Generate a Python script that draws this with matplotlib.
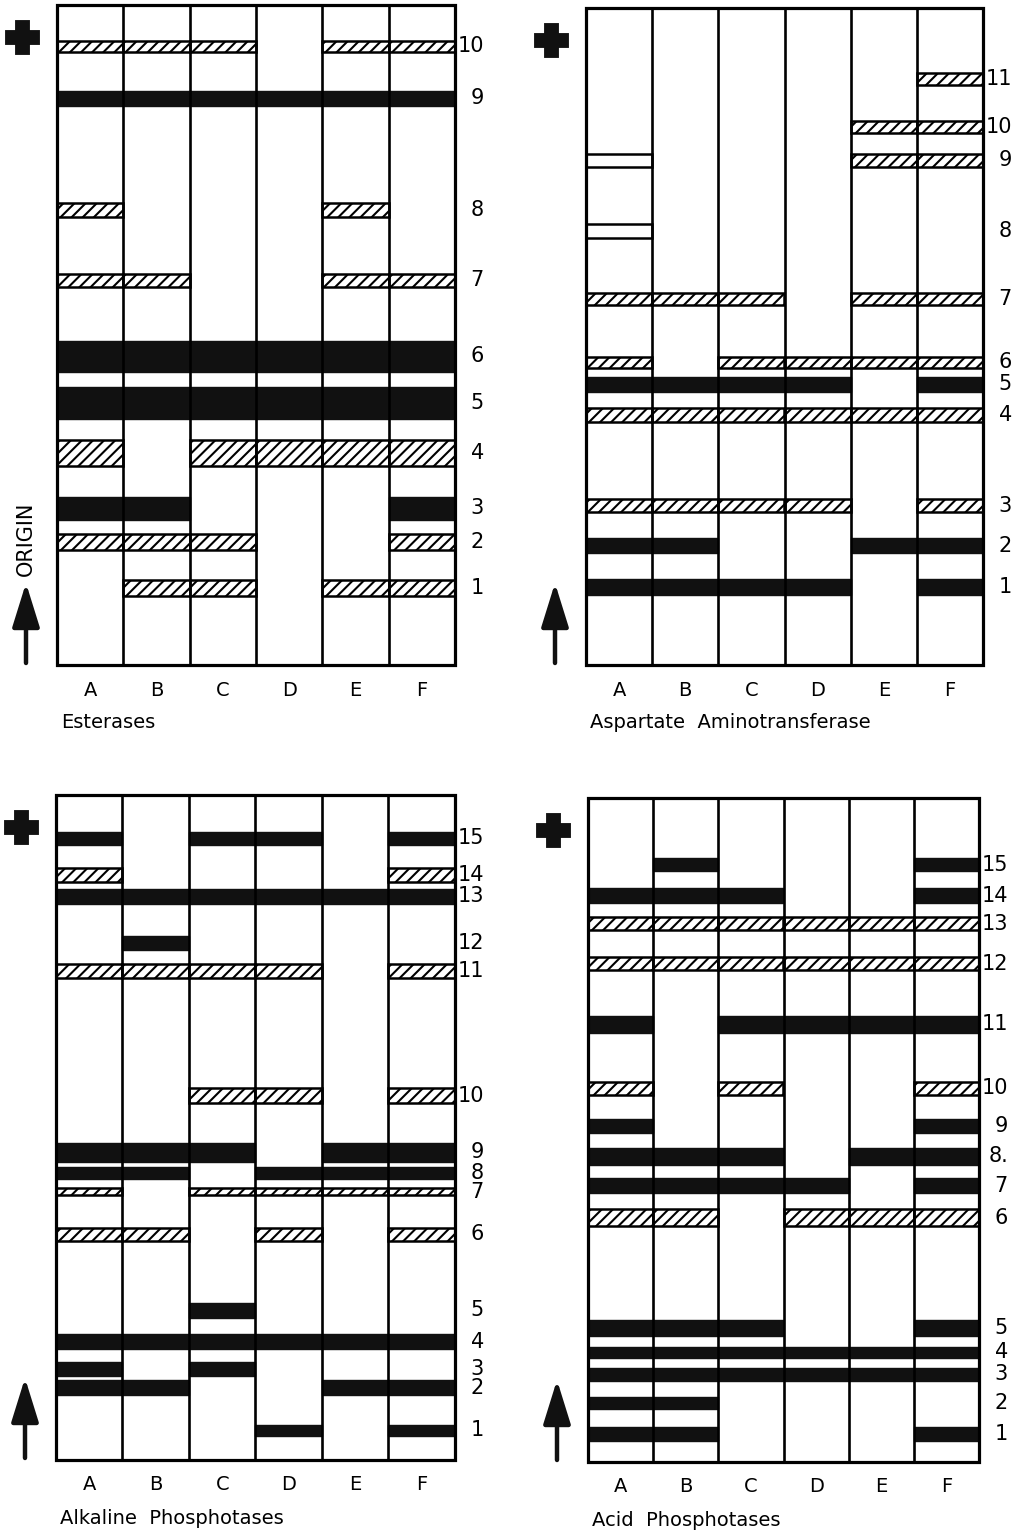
import matplotlib.pyplot as plt
from matplotlib.patches import Rectangle

W, H = 1017, 1532
plt.rcParams['font.family'] = ['DejaVu Sans']
plt.rcParams['hatch.linewidth'] = 1.5

lanes = ["A", "B", "C", "D", "E", "F"]

# band patterns per lane (A..F): b = dark band, h = faint (hatched), o = open, . = absent
# lo/hi = distance of band edges from the origin (px on the original plate)

# Esterases
est_labels = ["1", "2", "3", "4", "5", "6", "7", "8", "9", "10"]
est_pattern = [".hh.hh", "hhh..h", "bb...b", "h.hhhh", "bbbbbb",
               "bbbbbb", "hh..hh", "h...h.", "bbbbbb", "hhh.hh"]
est_lo = [69, 115, 145, 199, 246, 293, 378, 448, 559, 613]
est_hi = [85, 131, 168, 225, 278, 324, 391, 462, 574, 624]

# Aspartate Aminotransferase
aat_labels = ["1", "2", "3", "4", "5", "6", "7", "8", "9", "10", "11"]
aat_pattern = ["bbbb.b", "bb..bb", "hhhh.h", "hhhhhh", "bbbb.b",
               "h.hhhh", "hhh.hh", "o.....", "o...hh", "....hh", ".....h"]
aat_lo = [70, 112, 153, 243, 273, 297, 360, 427, 498, 532, 580]
aat_hi = [86, 127, 166, 257, 288, 308, 372, 441, 511, 544, 592]

# Alkaline Phosphotases
alk_labels = ["1", "2", "3", "4", "5", "6", "7", "8", "9", "10",
              "11", "12", "13", "14", "15"]
alk_pattern = ["...b.b", "bb..bb", "b.b...", "bbbbbb", "..b...",
               "hh.h.h", "h.hhhh", "bb.bbb", "bbb.bb", "..hh.h",
               "hhhh.h", ".b....", "bbbbbb", "h....h", "b.bb.b"]
alk_lo = [24, 65, 84, 111, 142, 219, 265, 281, 298, 357, 482, 510, 556, 578, 615]
alk_hi = [35, 80, 98, 126, 157, 232, 272, 293, 317, 372, 496, 524, 571, 592, 628]

# Acid Phosphotases
acp_labels = ["1", "2", "3", "4", "5", "6", "7", "8.", "9", "10",
              "11", "12", "13", "14", "15"]
acp_pattern = ["bb...b", "bb....", "bbbbbb", "bbbbbb", "bbb..b",
               "hh.hhh", "bbbb.b", "bbb.bb", "b....b", "h.h..h",
               "b.bbbb", "hhhhhh", "hhhhhh", "bbb..b", ".b...b"]
acp_lo = [21, 53, 81, 104, 126, 236, 269, 297, 329, 367, 429, 492, 532, 559, 591]
acp_hi = [35, 65, 94, 115, 142, 253, 284, 314, 343, 380, 446, 505, 545, 574, 604]

fig = plt.figure(figsize=(W / 100, H / 100), dpi=100)
fig.patch.set_facecolor('white')


def draw_gel(box, labels, pattern, lo, hi, title, origin=False):
    l, t, r, b = box
    ax = fig.add_axes([l / W, 1 - b / H, (r - l) / W, (b - t) / H])
    ax.set_xlim(0, 6)
    ax.set_ylim(0, b - t)
    ax.axis('off')
    px = (r - l) / 6.0
    top = b - t

    for i in range(len(labels)):
        for j, c in enumerate(pattern[i]):
            if c == 'b':
                ax.add_patch(Rectangle((j, lo[i]), 1, hi[i] - lo[i], fc='#111111',
                                       ec='#111111', lw=1.0, zorder=2))
            elif c == 'h':
                ax.add_patch(Rectangle((j, lo[i]), 1, hi[i] - lo[i], fc='white',
                                       ec='black', lw=1.8, hatch='///', zorder=2))
            elif c == 'o':
                ax.add_patch(Rectangle((j, lo[i]), 1, hi[i] - lo[i], fc='white',
                                       ec='black', lw=1.8, zorder=2))
        ax.text(6 + 29 / px, (lo[i] + hi[i]) / 2, labels[i], ha='right', va='center',
                fontsize=15)

    ax.vlines(range(1, 6), 0, top, colors='black', lw=1.9, zorder=4)
    ax.add_patch(Rectangle((0, 0), 6, top, fill=False, ec='black', lw=2.3,
                           zorder=5, clip_on=False))

    for j, name in enumerate(lanes):
        ax.text(j + 0.5, -25, name, ha='center', va='center', fontsize=14)
    ax.text(4 / px, -58, title, ha='left', va='center', fontsize=14)

    ax.plot([-35 / px], [top - 32], marker='P', ms=22, mew=3.5, color='#111111',
            clip_on=False)
    ax.annotate('', xy=(-31 / px, 82), xytext=(-31 / px, 2),
                arrowprops=dict(arrowstyle='-|>,head_length=0.9,head_width=0.28',
                                lw=3.2, color='#111111', mutation_scale=30,
                                shrinkA=0, shrinkB=0),
                annotation_clip=False)
    if origin:
        ax.text(-31 / px, 126, 'ORIGIN', rotation=90, ha='center', va='center',
                fontsize=15)


draw_gel((57, 5, 455, 665), est_labels, est_pattern, est_lo, est_hi,
         'Esterases', origin=True)
draw_gel((586, 8, 983, 665), aat_labels, aat_pattern, aat_lo, aat_hi,
         'Aspartate  Aminotransferase')
draw_gel((56, 795, 455, 1460), alk_labels, alk_pattern, alk_lo, alk_hi,
         'Alkaline  Phosphotases')
draw_gel((588, 798, 979, 1462), acp_labels, acp_pattern, acp_lo, acp_hi,
         'Acid  Phosphotases')

fig.savefig('out.png', dpi=100)
